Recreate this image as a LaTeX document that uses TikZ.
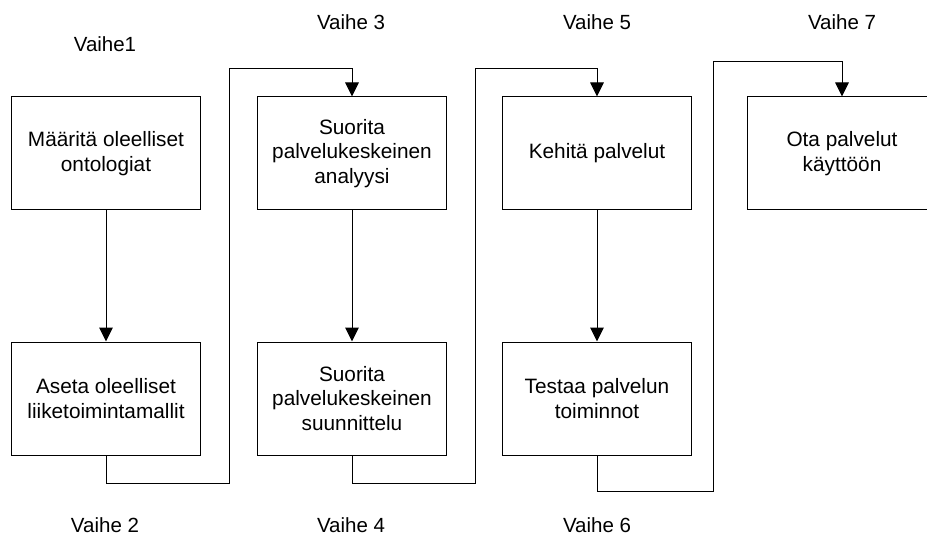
\documentclass[tikz,border=0pt]{standalone}
\usepackage{fontspec}
\setmainfont{Liberation Sans}
\usetikzlibrary{arrows.meta}
\begin{document}
\begin{tikzpicture}[x=1pt,y=-1pt,
  stepbox/.style={draw=black,line width=1pt,minimum width=189pt,minimum height=113pt,align=center,inner sep=0pt,font=\fontsize{20.8}{24.5}\selectfont},
  lbl/.style={font=\fontsize{20.5}{24}\selectfont,inner sep=0pt,anchor=base},
  conn/.style={draw=black,line width=1pt},
  arr/.style={conn,-{Triangle[width=13.5pt,length=14pt]}}]
\useasboundingbox (0,0) rectangle (927,540);
\clip (0,0) rectangle (927,540);
\node[stepbox] (b1) at (106,153.5) {Määritä oleelliset\\ontologiat};
\node[stepbox] (b2) at (106,398.5) {Aseta oleelliset\\liiketoimintamallit};
\node[stepbox] (b3) at (352,153.5) {Suorita\\palvelukeskeinen\\analyysi};
\node[stepbox] (b4) at (352,398.5) {Suorita\\palvelukeskeinen\\suunnittelu};
\node[stepbox] (b5) at (597,153.5) {Kehitä palvelut};
\node[stepbox] (b6) at (597,398.5) {Testaa palvelun\\toiminnot};
\node[stepbox] (b7) at (842,153.5) {Ota palvelut\\käyttöön};
\node[lbl] (v1) at (105,52) {Vaihe1};
\node[lbl] (v3) at (351,30) {Vaihe 3};
\node[lbl] (v5) at (597,30) {Vaihe 5};
\node[lbl] (v7) at (842,30) {Vaihe 7};
\node[lbl] (v2) at (105,532) {Vaihe 2};
\node[lbl] (v4) at (351,532) {Vaihe 4};
\node[lbl] (v6) at (597,532) {Vaihe 6};
\coordinate (c1) at (229,483);
\coordinate (c2) at (229,69);
\coordinate (c3) at (475,483);
\coordinate (c4) at (475,69);
\coordinate (c5) at (713,491);
\coordinate (c6) at (713,62);
\draw[arr] (b1.south) -- (b2.north);
\draw[arr] (b3.south) -- (b4.north);
\draw[arr] (b5.south) -- (b6.north);
\draw[arr] (b2.south) |- (c1) -- (c2) -| (b3.north);
\draw[arr] (b4.south) |- (c3) -- (c4) -| (b5.north);
\draw[arr] (b6.south) |- (c5) -- (c6) -| (b7.north);
\end{tikzpicture}
\end{document}
